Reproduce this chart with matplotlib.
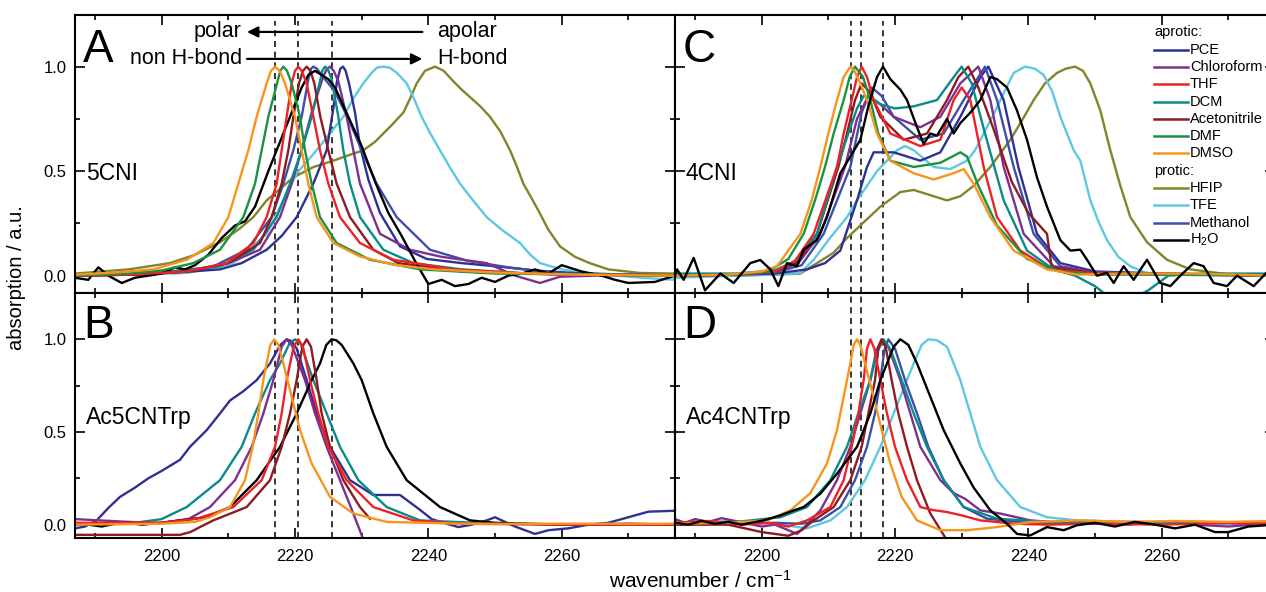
import matplotlib
matplotlib.use("Agg")
import matplotlib.pyplot as plt
from matplotlib.lines import Line2D
from matplotlib.ticker import MultipleLocator, NullFormatter

plt.rcParams['font.family'] = ['Liberation Sans', 'DejaVu Sans']
plt.rcParams['mathtext.fontset'] = 'custom'
plt.rcParams['mathtext.rm'] = 'Liberation Sans'
plt.rcParams['mathtext.it'] = 'Liberation Sans:italic'

# ---------------- legend / colours ----------------
aprotic = ['PCE', 'Chloroform', 'THF', 'DCM', 'Acetonitrile', 'DMF', 'DMSO']
protic = ['HFIP', 'TFE', 'Methanol', 'H$_2$O']
colors = {
    'PCE': '#2E3192', 'Chloroform': '#7F2F90', 'THF': '#EC2227',
    'DCM': '#0B8A8A', 'Acetonitrile': '#8E1B1F', 'DMF': '#1C9142',
    'DMSO': '#F7941D', 'HFIP': '#84842A', 'TFE': '#5EC8E3',
    'Methanol': '#3C50A8', 'H$_2$O': '#000000',
}

dash_top = [2217.0, 2220.5, 2225.5]
dash_right = [2213.4, 2214.9, 2218.2]

# ---------------- panel A: 5CNI ----------------
a_pce_x = [2187, 2195, 2202, 2208.75, 2212, 2215.75, 2218, 2220.25, 2222.75, 2224.75, 2225.75, 2226.3, 2226.8,
           2227.2, 2227.6, 2228.1, 2229, 2229.75, 2231, 2232.75, 2235.75, 2239.75, 2245, 2250, 2256, 2262,
           2270, 2277]
a_pce_y = [0.0, 0.005, 0.015, 0.03, 0.06, 0.124, 0.19, 0.28, 0.44, 0.6, 0.8, 0.93, 0.99,
           1.0, 0.98, 0.92, 0.78, 0.62, 0.46, 0.3, 0.14, 0.08, 0.06, 0.045, 0.025, 0.012,
           0.005, 0.0]
a_chcl3_x = [2187, 2198, 2205, 2210, 2214.75, 2217.75, 2219.5, 2221, 2222.5, 2224.2, 2224.8, 2225.25, 2225.8,
             2226.5, 2227.75, 2229.75, 2232.75, 2237.25, 2242, 2248.75, 2253, 2256.75, 2259.75, 2265, 2270,
             2277]
a_chcl3_y = [0.0, 0.01, 0.03, 0.06, 0.124, 0.28, 0.44, 0.6, 0.78, 0.95, 0.99, 1.0, 0.98,
             0.93, 0.76, 0.44, 0.2, 0.124, 0.09, 0.06, 0.0, -0.035, -0.005, 0.0, 0.005,
             0.0]
a_thf_x = [2187, 2195, 2203.75, 2209.75, 2213.75, 2215.75, 2217.25, 2218, 2218.75, 2219.5, 2220, 2220.5, 2221,
           2221.75, 2222.75, 2223.75, 2225, 2226.75, 2229.75, 2234.75, 2243.75, 2255, 2265, 2277]
a_thf_y = [0.0, 0.005, 0.02, 0.06, 0.156, 0.28, 0.44, 0.6, 0.76, 0.92, 0.98, 1.0, 0.98,
           0.92, 0.76, 0.6, 0.44, 0.28, 0.156, 0.076, 0.03, 0.01, 0.005, 0.0]
a_dcm_x = [2187, 2198, 2208.75, 2213.75, 2217.25, 2219.25, 2221, 2222.5, 2223.75, 2224.1, 2224.5, 2224.9,
           2225.5, 2226.5, 2227.25, 2228.25, 2229.75, 2233.25, 2237.75, 2245, 2255, 2265, 2277]
a_dcm_y = [0.0, 0.01, 0.045, 0.124, 0.28, 0.44, 0.6, 0.76, 0.93, 0.98, 1.0, 0.99,
           0.94, 0.76, 0.6, 0.44, 0.28, 0.124, 0.06, 0.03, 0.01, 0.005, 0.0]
a_mecn_x = [2187, 2196, 2204, 2210, 2214.75, 2216.5, 2218, 2219, 2219.75, 2220.6, 2221.2, 2221.75, 2222.3,
            2222.9, 2223.8, 2225, 2226.25, 2228.25, 2231.75, 2235.5, 2245, 2260, 2277]
a_mecn_y = [0.0, 0.005, 0.02, 0.06, 0.156, 0.28, 0.44, 0.6, 0.76, 0.92, 0.98, 1.0, 0.98,
            0.92, 0.76, 0.6, 0.44, 0.28, 0.124, 0.06, 0.02, 0.005, 0.0]
a_dmf_x = [2187, 2195, 2200, 2204.75, 2208.75, 2212.25, 2214, 2215, 2216, 2217.3, 2217.8, 2218.25, 2218.8,
           2219.5, 2220.75, 2221.5, 2222.5, 2223.75, 2226.25, 2231.25, 2238.75, 2250, 2265, 2277]
a_dmf_y = [0.0, 0.01, 0.025, 0.06, 0.124, 0.28, 0.44, 0.6, 0.76, 0.92, 0.98, 1.0, 0.98,
           0.92, 0.76, 0.6, 0.44, 0.28, 0.156, 0.076, 0.03, 0.01, 0.005, 0.0]
a_dmso_x = [2187, 2193, 2198.75, 2203.75, 2207.75, 2210, 2211.5, 2213, 2214.25, 2215.75, 2216.4, 2217, 2217.7,
            2218.5, 2220, 2221, 2222, 2223.25, 2225.75, 2229.75, 2234.75, 2241, 2250, 2262, 2277]
a_dmso_y = [0.005, 0.015, 0.03, 0.076, 0.156, 0.28, 0.44, 0.6, 0.76, 0.92, 0.98, 1.0, 0.98,
            0.92, 0.76, 0.6, 0.44, 0.28, 0.156, 0.092, 0.052, 0.03, 0.015, 0.005, 0.0]
a_hfip_x = [2187, 2195, 2201.25, 2205, 2208.75, 2211.5, 2213.75, 2215.75, 2219.75, 2222.8, 2225.75, 2227.5,
            2230.25, 2232, 2234.5, 2236.25, 2237.3, 2238.25, 2239.5, 2241, 2242.3, 2243.75, 2245, 2246.75,
            2247.8, 2249.25, 2250.8, 2252.25, 2253.3, 2254.25, 2255.5, 2256.7, 2258, 2259.75, 2262, 2264.2,
            2267, 2271.7, 2277]
a_hfip_y = [0.01, 0.03, 0.06, 0.1, 0.16, 0.22, 0.28, 0.36, 0.47, 0.52, 0.55, 0.57,
            0.6, 0.64, 0.72, 0.78, 0.85, 0.92, 0.98, 1.0, 0.98, 0.93, 0.89, 0.84,
            0.81, 0.76, 0.69, 0.6, 0.52, 0.44, 0.37, 0.30, 0.22, 0.14, 0.09, 0.06,
            0.03, 0.013, 0.01]
a_tfe_x = [2187, 2195, 2203.75, 2208, 2210.75, 2212.5, 2214, 2215.75, 2217, 2218.25, 2220.25, 2223.25, 2225.2,
           2227.25, 2228.8, 2230.25, 2231.5, 2232.3, 2233.25, 2234.2, 2235.3, 2236.75, 2237.8, 2239, 2240.3,
           2241.75, 2243.2, 2244.75, 2246.7, 2248.75, 2251, 2253.75, 2255.3, 2256.75, 2260, 2263, 2266.7,
           2272, 2277]
a_tfe_y = [0.0, 0.005, 0.013, 0.035, 0.06, 0.1, 0.15, 0.2, 0.28, 0.36, 0.49, 0.6, 0.68,
           0.76, 0.85, 0.92, 0.97, 0.995, 1.0, 0.995, 0.97, 0.92, 0.85, 0.76, 0.68,
           0.6, 0.52, 0.44, 0.36, 0.28, 0.22, 0.156, 0.1, 0.06, 0.03, 0.015, 0.005,
           -0.01, -0.02]
a_meoh_x = [2187, 2196, 2202, 2207.75, 2212.75, 2216.5, 2218.25, 2219.75, 2221, 2222, 2222.4, 2222.75, 2223.3,
            2224, 2226, 2228, 2230, 2232.25, 2235.25, 2240.25, 2246, 2252, 2258, 2265, 2277]
a_meoh_y = [0.0, 0.005, 0.015, 0.044, 0.124, 0.28, 0.44, 0.6, 0.76, 0.94, 0.99, 1.0, 0.99,
            0.96, 0.88, 0.75, 0.6, 0.44, 0.28, 0.124, 0.07, 0.04, 0.015, 0.005, 0.0]
a_h2o_x = [2187, 2189, 2190.5, 2192, 2194, 2196, 2198, 2200, 2202, 2203.5, 2205, 2207, 2209, 2211, 2212.5,
           2214, 2216, 2218, 2219.5, 2221, 2222, 2223, 2224, 2225, 2226, 2228, 2230, 2232, 2234, 2236,
           2238, 2240, 2242, 2244, 2246, 2248, 2250, 2252, 2254, 2256, 2258, 2260, 2263, 2266, 2268, 2270,
           2274, 2277]
a_h2o_y = [-0.01, -0.02, 0.04, 0.0, -0.035, -0.01, 0.0, 0.01, 0.04, 0.03, 0.05, 0.1, 0.18, 0.24, 0.26,
           0.33, 0.5, 0.66, 0.78, 0.9, 0.96, 0.98, 0.96, 0.94, 0.9, 0.76, 0.62, 0.45, 0.3, 0.19,
           0.07, -0.04, -0.02, -0.05, -0.04, -0.01, -0.03, 0.0, 0.01, 0.03, 0.01, 0.05, 0.02, 0.0, -0.02,
           -0.035, -0.03, 0.0]

# ---------------- panel B: Ac5CNTrp ----------------
b_dmso_x = [2187, 2200, 2205, 2207.25, 2210.25, 2212.5, 2213.65, 2214.5, 2215.25, 2216.3, 2216.9, 2217.5,
            2218.25, 2219.5, 2220.75, 2222.5, 2225.25, 2228.75, 2233.75, 2245, 2260, 2277]
b_dmso_y = [0.0, 0.005, 0.015, 0.04, 0.095, 0.24, 0.42, 0.6, 0.78, 0.97, 1.0, 0.97,
            0.87, 0.69, 0.51, 0.33, 0.15, 0.06, 0.015, 0.005, 0.005, 0.005]
b_dcm_x = [2187, 2195, 2200, 2203.75, 2208.75, 2212, 2214, 2216.25, 2217.75, 2219.2, 2220, 2220.8, 2222.75,
           2224.75, 2226.75, 2229.5, 2233.75, 2238.75, 2250, 2265, 2277]
b_dcm_y = [0.0, 0.005, 0.03, 0.095, 0.24, 0.42, 0.6, 0.78, 0.87, 0.98, 1.0, 0.98, 0.78,
           0.6, 0.42, 0.24, 0.095, 0.023, 0.005, 0.0, 0.0]
b_chcl3_x = [2187, 2195, 2200, 2204, 2207.25, 2211, 2213.5, 2215.25, 2216.75, 2218, 2218.75, 2219.5, 2221.5,
             2223, 2224.75, 2226.75, 2228.75, 2230.25, 2231]
b_chcl3_y = [0.03, 0.015, 0.01, 0.03, 0.095, 0.24, 0.42, 0.6, 0.78, 0.96, 1.0, 0.97, 0.78,
             0.6, 0.42, 0.24, 0.06, -0.08, -0.15]
b_thf_x = [2187, 2195, 2200, 2205.25, 2210.75, 2215, 2217, 2218, 2218.75, 2219.8, 2220.5, 2221.2, 2222.25,
           2223.5, 2225, 2227.75, 2231.75, 2237.75, 2245, 2260, 2277]
b_thf_y = [0.01, 0.01, 0.01, 0.032, 0.095, 0.24, 0.42, 0.6, 0.78, 0.96, 1.0, 0.96, 0.78,
           0.6, 0.42, 0.24, 0.095, 0.023, 0.005, 0.0, 0.0]
b_mecn_x = [2187, 2202.75, 2204.3, 2205.75, 2207.75, 2212.75, 2216.25, 2218, 2219.25, 2220.25, 2221.1,
            2221.75, 2222.4, 2223.25, 2224, 2225.25, 2227.25, 2229.75, 2231.25]
b_mecn_y = [-0.055, -0.055, -0.04, -0.013, 0.023, 0.095, 0.24, 0.42, 0.6, 0.78, 0.96,
            1.0, 0.96, 0.78, 0.6, 0.42, 0.24, 0.095, 0.032]
b_h2o_x = [2187, 2189, 2191, 2193, 2195, 2197, 2200, 2202.75, 2206.75, 2210.25, 2214.25, 2217.75, 2220.25,
           2222.5, 2223.75, 2224.7, 2225.5, 2226.2, 2227, 2228.75, 2230, 2231.75, 2233.75, 2236.75, 2241.75,
           2246.25, 2250, 2255, 2260, 2265, 2270, 2277]
b_h2o_y = [0.01, 0.0, -0.01, 0.005, 0.01, 0.0, 0.01, 0.023, 0.04, 0.095, 0.24, 0.42, 0.6,
           0.78, 0.87, 0.97, 1.0, 0.995, 0.97, 0.87, 0.78, 0.6, 0.42, 0.24, 0.095,
           0.023, 0.01, 0.005, 0.0, 0.0, 0.005, 0.0]
b_pce_x = [2187, 2188.5, 2190.25, 2192, 2193.75, 2196, 2198, 2200, 2202.75, 2204.25, 2206.75, 2208.75,
           2210.25, 2212.25, 2214.25, 2216.25, 2217.8, 2218.75, 2219.5, 2220.25, 2221.75, 2223.25, 2225.25,
           2228.25, 2231.75, 2235.75, 2238.75, 2240.5, 2242.75, 2244.5, 2246.5, 2248.75, 2250, 2253, 2256,
           2258, 2261, 2264, 2267, 2270, 2273, 2277]
b_pce_y = [-0.02, -0.01, 0.023, 0.09, 0.15, 0.2, 0.25, 0.29, 0.35, 0.42, 0.51, 0.6,
           0.67, 0.72, 0.78, 0.87, 0.97, 1.0, 0.99, 0.95, 0.78, 0.6, 0.42,
           0.24, 0.16, 0.16, 0.08, 0.03, 0.005, -0.013, 0.0, 0.023, 0.04, -0.01, -0.05,
           -0.03, -0.02, 0.0, 0.01, 0.04, 0.07, 0.075]

# ---------------- panel C: 4CNI ----------------
c_dmso_x = [2187, 2195, 2200, 2202.3, 2205.8, 2207.5, 2208.8, 2210, 2211.3, 2212.3, 2213.3, 2213.9, 2214.8,
            2215.8, 2217.3, 2219.3, 2222.8, 2225.8, 2228.8, 2230.3, 2231.8, 2234.3, 2237.8, 2242.8, 2247.3,
            2255, 2265, 2277]
c_dmso_y = [0.0, 0.005, 0.02, 0.045, 0.2, 0.36, 0.52, 0.68, 0.84, 0.95, 1.0, 0.98, 0.92,
            0.84, 0.68, 0.55, 0.49, 0.46, 0.49, 0.51, 0.44, 0.28, 0.12, 0.03, 0.005,
            0.01, 0.01, 0.0]
c_dmf_x = [2187, 2196, 2201, 2204, 2206.3, 2208, 2209.5, 2210.8, 2212.3, 2213.2, 2214, 2215.2, 2216.3,
           2217.5, 2219.3, 2222.8, 2226.8, 2229.8, 2230.8, 2232.5, 2235.3, 2239.8, 2244.8, 2250, 2260, 2277]
c_dmf_y = [0.0, 0.005, 0.02, 0.08, 0.2, 0.36, 0.52, 0.68, 0.84, 0.95, 1.0, 0.95, 0.84,
           0.68, 0.55, 0.52, 0.54, 0.59, 0.57, 0.43, 0.24, 0.08, 0.02, 0.005, 0.005, 0.0]
c_thf_x = [2187, 2196, 2202, 2205, 2207.8, 2211.3, 2212.3, 2213.5, 2214.3, 2215, 2215.8, 2216.8, 2219.3,
           2223.8, 2226.8, 2228.8, 2230, 2231.3, 2233.3, 2235.3, 2238.8, 2243.3, 2250, 2260, 2277]
c_thf_y = [0.0, 0.005, 0.02, 0.07, 0.2, 0.52, 0.68, 0.84, 0.95, 1.0, 0.95, 0.84, 0.68,
           0.62, 0.65, 0.84, 0.9, 0.84, 0.52, 0.28, 0.12, 0.03, 0.01, 0.01, 0.0]
c_dcm_x = [2187, 2196, 2202, 2205, 2208.3, 2211.3, 2213, 2214.3, 2215.3, 2216.5, 2217.8, 2220, 2222.8,
           2226.3, 2228.8, 2230, 2231.5, 2233.5, 2236.3, 2239.8, 2243.8, 2247, 2250, 2252, 2255, 2258,
           2261, 2266, 2277]
c_dcm_y = [0.01, 0.01, 0.025, 0.07, 0.2, 0.52, 0.68, 0.8, 0.86, 0.85, 0.82, 0.8, 0.81,
           0.84, 0.95, 1.0, 0.92, 0.68, 0.36, 0.12, 0.03, 0.0, -0.05, -0.1, -0.12, -0.07,
           0.0, 0.01, 0.01]
c_mecn_x = [2187, 2196, 2202, 2205.5, 2208.3, 2211.5, 2212.8, 2214, 2215, 2216.2, 2217.8, 2221.3, 2224.8,
            2227.8, 2229.5, 2231, 2232.5, 2234.8, 2237.5, 2240, 2242.8, 2243.5, 2250, 2277]
c_mecn_y = [0.0, 0.005, 0.02, 0.07, 0.2, 0.52, 0.68, 0.84, 0.92, 0.88, 0.76, 0.65, 0.68,
            0.84, 0.95, 1.0, 0.9, 0.7, 0.45, 0.3, 0.2, 0.04, 0.01, 0.0]
c_chcl3_x = [2187, 2196, 2202, 2205.5, 2208.8, 2212.5, 2214.3, 2216, 2217.8, 2219.8, 2223.8, 2226.8, 2229.8,
             2232.5, 2234.3, 2236.3, 2239.3, 2243.8, 2250, 2260, 2277]
c_chcl3_y = [0.0, 0.005, 0.02, 0.06, 0.2, 0.52, 0.75, 0.86, 0.82, 0.76, 0.71, 0.76, 0.92,
             1.0, 0.84, 0.52, 0.2, 0.045, 0.015, 0.01, 0.0]
c_meoh_x = [2187, 2196, 2202, 2206, 2209.3, 2213.3, 2215, 2216.5, 2218, 2219.8, 2223.8, 2227.3, 2230.3,
            2233.5, 2235.3, 2237.8, 2240.8, 2244.8, 2250, 2260, 2277]
c_meoh_y = [0.0, 0.005, 0.015, 0.05, 0.2, 0.52, 0.78, 0.9, 0.86, 0.76, 0.65, 0.68, 0.84,
            1.0, 0.84, 0.52, 0.2, 0.045, 0.015, 0.01, 0.0]
c_pce_x = [2187, 2196, 2202, 2206.8, 2209.5, 2211.8, 2214.3, 2215.8, 2216.8, 2219.8, 2223.8, 2226.8, 2229.8,
           2232.8, 2234, 2236.3, 2238.5, 2241.3, 2244.8, 2250, 2260, 2277]
c_pce_y = [0.0, 0.005, 0.01, 0.03, 0.06, 0.12, 0.36, 0.52, 0.59, 0.59, 0.55, 0.59, 0.76,
           0.95, 1.0, 0.84, 0.52, 0.2, 0.06, 0.02, 0.01, 0.0]
c_tfe_x = [2187, 2196, 2202, 2205.8, 2207.8, 2210, 2212.8, 2214.3, 2215.8, 2217.3, 2218.8, 2220.3, 2221.5,
           2222.8, 2225.8, 2228.3, 2230.8, 2232, 2233.3, 2234.6, 2235.8, 2237.8, 2239.5, 2241, 2242.3,
           2243.6, 2244.8, 2246.8, 2247.8, 2249.3, 2250.5, 2251.8, 2253.5, 2255.3, 2257.5, 2260.3, 2277]
c_tfe_y = [-0.01, 0.0, 0.005, 0.013, 0.076, 0.17, 0.28, 0.36, 0.43, 0.5, 0.55, 0.6, 0.62,
           0.6, 0.52, 0.51, 0.55, 0.6, 0.68, 0.76, 0.84, 0.97, 1.0, 0.99, 0.96,
           0.88, 0.76, 0.6, 0.55, 0.36, 0.26, 0.17, 0.09, 0.045, 0.015, 0.005, 0.0]
c_hfip_x = [2187, 2196, 2202, 2205.8, 2208.3, 2210.8, 2212.8, 2214.8, 2217.8, 2220.8, 2222.8, 2225.8, 2227.8,
            2229.8, 2231.8, 2234.3, 2237.3, 2239, 2240.8, 2242.5, 2244.3, 2245.6, 2247, 2248.2, 2249.3,
            2250.8, 2252.3, 2253.8, 2255.3, 2257.8, 2260.8, 2264.3, 2270.3, 2277]
c_hfip_y = [0.0, 0.0, 0.005, 0.01, 0.06, 0.11, 0.18, 0.24, 0.33, 0.4, 0.41, 0.38, 0.36,
            0.38, 0.43, 0.52, 0.65, 0.74, 0.84, 0.92, 0.97, 0.99, 1.0, 0.98, 0.92,
            0.79, 0.6, 0.43, 0.28, 0.16, 0.076, 0.03, 0.005, 0.0]
c_h2o_x = [2187, 2187.3, 2188.3, 2189.8, 2191.5, 2193.8, 2195.8, 2198.3, 2199.8, 2201.3, 2202.5, 2203.8,
           2205.3, 2206.3, 2208.3, 2209.8, 2211.8, 2213.3, 2214.8, 2216, 2217.3, 2218.2, 2219.3, 2220.8,
           2221.8, 2223.3, 2224.3, 2225.3, 2226.3, 2227.8, 2228.8, 2229.8, 2231.3, 2232.8, 2234.3, 2235.3,
           2236.8, 2238.3, 2239.8, 2241.3, 2242.8, 2244.8, 2246.3, 2247.8, 2248.8, 2250.3, 2251.8, 2252.8,
           2254.3, 2255.8, 2257.8, 2259.8, 2261.3, 2262.8, 2264.8, 2266.3, 2267.8, 2269.8, 2271.3, 2273.8,
           2275.7, 2277]
c_h2o_y = [0.0, 0.03, -0.02, 0.085, -0.07, 0.01, -0.035, 0.06, 0.075, 0.03, -0.05, 0.06,
           0.045, 0.125, 0.17, 0.28, 0.49, 0.57, 0.65, 0.81, 0.95, 1.0, 0.94, 0.89,
           0.84, 0.71, 0.63, 0.68, 0.67, 0.75, 0.68, 0.73, 0.78, 0.84, 0.95, 0.94,
           0.9, 0.79, 0.65, 0.47, 0.33, 0.17, 0.12, 0.124, 0.076, 0.0, 0.013, -0.035,
           0.045, -0.02, 0.076, -0.035, -0.05, 0.0, 0.06, 0.045, -0.035, -0.05, 0.0, -0.05,
           0.013, 0.0]

# ---------------- panel D: Ac4CNTrp ----------------
d_dmso_x = [2187, 2195, 2200.8, 2204.3, 2207.3, 2209.8, 2211.3, 2212.3, 2213.3, 2213.8, 2214.3, 2214.8, 2215.5,
            2216.8, 2218, 2219.3, 2221, 2223.3, 2226.8, 2230.8, 2235.3, 2240.3, 2247.8, 2255, 2262, 2270, 2277]
d_dmso_y = [0.005, 0.01, 0.023, 0.077, 0.17, 0.33, 0.51, 0.69, 0.87, 0.97, 1.0, 0.97, 0.87,
            0.69, 0.51, 0.33, 0.15, 0.023, -0.03, -0.03, -0.013, 0.014, 0.023, 0.015, 0.02, 0.015, 0.02]
d_thf_x = [2187, 2192, 2197, 2201, 2204, 2206.8, 2210.3, 2212.3, 2213.5, 2214.5, 2215.3, 2215.8, 2216.3,
           2216.9, 2217.8, 2218.8, 2220, 2221.8, 2223.8, 2225.5, 2227.8, 2230, 2232.8, 2238, 2242.8, 2250,
           2260, 2270, 2277]
d_thf_y = [0.01, 0.02, 0.0, 0.01, -0.01, 0.023, 0.095, 0.24, 0.42, 0.6, 0.78, 0.95, 1.0,
           0.95, 0.78, 0.6, 0.42, 0.24, 0.095, 0.08, 0.068, 0.05, 0.023, 0.005, 0.0, 0.005,
           0.0, 0.01, 0.005]
d_mecn_x = [2187, 2195, 2200, 2204, 2206, 2207.8, 2210.8, 2213.3, 2215, 2216, 2217, 2217.5, 2218, 2218.6,
            2219.5, 2220.5, 2221.8, 2223.3, 2225.3, 2227.8]
d_mecn_y = [0.0, 0.0, -0.04, -0.06, -0.03, 0.023, 0.095, 0.24, 0.42, 0.6, 0.78, 0.95, 1.0, 0.96,
            0.78, 0.6, 0.42, 0.24, 0.06, -0.085]
d_dcm_x = [2187, 2195, 2202.8, 2206.8, 2210.3, 2212.8, 2214.5, 2216.3, 2217.3, 2218.3, 2219.4, 2221, 2222.8,
           2224.8, 2227.3, 2230.3, 2235.3, 2245, 2255, 2265, 2277]
d_dcm_y = [0.0, 0.01, 0.04, 0.095, 0.24, 0.42, 0.6, 0.78, 0.93, 1.0, 0.94, 0.78, 0.6,
           0.42, 0.24, 0.095, 0.032, 0.01, 0.015, 0.01, 0.01]
d_chcl3_x = [2187, 2188.5, 2190, 2192, 2194, 2196, 2198, 2200, 2202, 2204, 2205.3, 2206.5, 2208.8, 2211.3,
             2213.3, 2214.8, 2216.3, 2217.2, 2218, 2219, 2220.8, 2222.3, 2223.8, 2226.8, 2228.8, 2230.5,
             2232.8, 2235.8, 2240.3, 2245, 2250, 2255, 2260, 2265, 2270, 2277]
d_chcl3_y = [0.03, 0.01, 0.03, 0.015, 0.035, 0.02, 0.005, -0.01, 0.0, -0.03, -0.05, -0.01, 0.077, 0.24,
             0.42, 0.6, 0.78, 0.94, 1.0, 0.96, 0.78, 0.6, 0.42, 0.24, 0.17, 0.14,
             0.077, 0.06, 0.023, 0.01, 0.02, 0.0, 0.015, 0.0, -0.01, 0.01]
d_meoh_x = [2187, 2195, 2202, 2206, 2208.8, 2211.8, 2214, 2215.8, 2217, 2217.8, 2218.4, 2219, 2220, 2221.5,
            2223.3, 2225, 2227.3, 2230.3, 2233.8, 2240, 2250, 2260, 2277]
d_meoh_y = [0.01, 0.005, 0.01, 0.005, 0.023, 0.095, 0.24, 0.42, 0.6, 0.78, 0.94, 1.0, 0.95, 0.78,
            0.6, 0.42, 0.24, 0.095, 0.032, 0.01, 0.005, 0.01, 0.005]
d_h2o_x = [2187, 2189, 2191, 2193, 2195, 2197, 2200.3, 2202.8, 2204.8, 2206.3, 2208.8, 2211.3, 2214.3,
           2216.3, 2217.8, 2218.8, 2219.8, 2220.8, 2222, 2223.3, 2225.3, 2227.3, 2229.8, 2231.8, 2234.3,
           2236.8, 2238.3, 2240.3, 2242.8, 2245.3, 2247.3, 2250, 2253, 2256, 2259, 2262, 2265, 2268, 2270,
           2273, 2277]
d_h2o_y = [0.01, 0.0, 0.02, 0.005, 0.015, 0.0, 0.023, 0.05, 0.077, 0.095, 0.167, 0.275, 0.42,
           0.6, 0.78, 0.87, 0.96, 1.0, 0.97, 0.87, 0.69, 0.51, 0.33, 0.2, 0.077,
           0.005, -0.05, -0.058, -0.013, -0.03, -0.003, 0.01, -0.01, 0.015, 0.0, -0.02, 0.0, -0.04, -0.04,
           -0.01, 0.0]
d_tfe_x = [2187, 2195, 2202, 2206.8, 2210.3, 2212.8, 2215.5, 2217.8, 2219.8, 2221.8, 2222.8, 2224, 2225,
           2226.3, 2227.8, 2229.8, 2231.3, 2232.8, 2235.3, 2238.8, 2242.8, 2247.3, 2255, 2265, 2277]
d_tfe_y = [0.01, 0.02, 0.005, -0.02, 0.023, 0.095, 0.24, 0.42, 0.6, 0.78, 0.87, 0.97, 1.0,
           0.995, 0.96, 0.78, 0.6, 0.42, 0.24, 0.095, 0.04, 0.023, 0.015, 0.01, 0.005]

panel_a = [('HFIP', a_hfip_x, a_hfip_y), ('TFE', a_tfe_x, a_tfe_y), ('PCE', a_pce_x, a_pce_y),
           ('Methanol', a_meoh_x, a_meoh_y), ('Chloroform', a_chcl3_x, a_chcl3_y),
           ('DCM', a_dcm_x, a_dcm_y), ('Acetonitrile', a_mecn_x, a_mecn_y),
           ('H$_2$O', a_h2o_x, a_h2o_y), ('THF', a_thf_x, a_thf_y),
           ('DMF', a_dmf_x, a_dmf_y), ('DMSO', a_dmso_x, a_dmso_y)]
panel_b = [('PCE', b_pce_x, b_pce_y), ('DCM', b_dcm_x, b_dcm_y), ('Chloroform', b_chcl3_x, b_chcl3_y),
           ('H$_2$O', b_h2o_x, b_h2o_y), ('Acetonitrile', b_mecn_x, b_mecn_y),
           ('THF', b_thf_x, b_thf_y), ('DMSO', b_dmso_x, b_dmso_y)]
panel_c = [('HFIP', c_hfip_x, c_hfip_y), ('TFE', c_tfe_x, c_tfe_y), ('PCE', c_pce_x, c_pce_y),
           ('Methanol', c_meoh_x, c_meoh_y), ('Chloroform', c_chcl3_x, c_chcl3_y),
           ('Acetonitrile', c_mecn_x, c_mecn_y), ('DCM', c_dcm_x, c_dcm_y),
           ('THF', c_thf_x, c_thf_y), ('DMF', c_dmf_x, c_dmf_y), ('DMSO', c_dmso_x, c_dmso_y),
           ('H$_2$O', c_h2o_x, c_h2o_y)]
panel_d = [('TFE', d_tfe_x, d_tfe_y), ('Methanol', d_meoh_x, d_meoh_y), ('Chloroform', d_chcl3_x, d_chcl3_y),
           ('DCM', d_dcm_x, d_dcm_y), ('Acetonitrile', d_mecn_x, d_mecn_y), ('THF', d_thf_x, d_thf_y),
           ('DMSO', d_dmso_x, d_dmso_y), ('H$_2$O', d_h2o_x, d_h2o_y)]

W, H = 1266, 592
fig = plt.figure(figsize=(W / 100, H / 100), dpi=100)


def px_box(left, top, right, bottom):
    return [left / W, 1 - bottom / H, (right - left) / W, (bottom - top) / H]


ax_a = fig.add_axes(px_box(75, 15, 675, 293))
ax_b = fig.add_axes(px_box(75, 293, 675, 538))
ax_c = fig.add_axes(px_box(675, 15, 1275, 293))
ax_d = fig.add_axes(px_box(675, 293, 1275, 538))


def style(ax, ylim, xlabels, ylabels):
    ax.set_xlim(2187, 2277)
    ax.set_ylim(*ylim)
    ax.xaxis.set_major_locator(MultipleLocator(20))
    ax.xaxis.set_minor_locator(MultipleLocator(10))
    ax.yaxis.set_major_locator(MultipleLocator(0.5))
    ax.yaxis.set_minor_locator(MultipleLocator(0.25))
    ax.tick_params(which='both', direction='in', top=True, right=True, width=1.2, labelsize=12)
    ax.tick_params(which='major', length=7)
    ax.tick_params(which='minor', length=3.5)
    ax.tick_params(axis='x', pad=8)
    ax.tick_params(axis='y', pad=6)
    for sp in ax.spines.values():
        sp.set_linewidth(1.5)
    if not xlabels:
        ax.xaxis.set_major_formatter(NullFormatter())
    if ylabels:
        ax.yaxis.set_major_formatter(lambda v, p: f'{v:.1f}')
    else:
        ax.yaxis.set_major_formatter(NullFormatter())


def draw(ax, curves, dashes, ymax):
    for xv in dashes:
        ax.axvline(xv, ymax=ymax, color='k', lw=1.1, ls=(0, (4, 3)), zorder=1)
    for name, xs, ys in curves:
        ax.plot(xs, ys, color=colors[name], lw=1.7, zorder=2, solid_joinstyle='round')


draw(ax_a, panel_a, dash_top, 0.98)
draw(ax_b, panel_b, dash_top, 1.0)
draw(ax_c, panel_c, dash_right, 0.98)
draw(ax_d, panel_d, dash_right, 1.0)

style(ax_a, (-0.083, 1.247), False, True)
style(ax_b, (-0.072, 1.25), True, True)
style(ax_c, (-0.083, 1.247), False, False)
style(ax_d, (-0.072, 1.25), True, False)

# panel letters and compound names
for ax, letter, name, ly, ny in [(ax_a, 'A', '5CNI', 0.83, 0.43), (ax_b, 'B', 'Ac5CNTrp', 0.815, 0.49),
                                 (ax_c, 'C', '4CNI', 0.83, 0.43), (ax_d, 'D', 'Ac4CNTrp', 0.815, 0.49)]:
    ax.text(0.013, ly, letter, transform=ax.transAxes, fontsize=33, va='baseline', ha='left')
    ax.text(0.018, ny, name, transform=ax.transAxes, fontsize=16.5, va='center', ha='left')

# polarity / H-bond arrows
ax_a.annotate('', xy=(2212.8, 1.166), xytext=(2239.1, 1.166),
              arrowprops=dict(arrowstyle='-|>', color='k', lw=1.6, mutation_scale=16, shrinkA=0, shrinkB=0))
ax_a.annotate('', xy=(2239.1, 1.037), xytext=(2212.8, 1.037),
              arrowprops=dict(arrowstyle='-|>', color='k', lw=1.6, mutation_scale=16, shrinkA=0, shrinkB=0))
ax_a.text(2212.0, 1.17, 'polar', fontsize=15.5, ha='right', va='center')
ax_a.text(2241.3, 1.17, 'apolar', fontsize=15.5, ha='left', va='center')
ax_a.text(2212.0, 1.04, 'non H-bond', fontsize=15.5, ha='right', va='center')
ax_a.text(2241.3, 1.04, 'H-bond', fontsize=15.5, ha='left', va='center')

# legend, drawn by hand so the group headers line up with the handles
rows = ['aprotic:'] + aprotic + ['protic:'] + protic
x0, x1, xt = 1154, 1188, 1190
for i, label in enumerate(rows):
    yc = 1 - (32.3 + 17.3 * i) / H
    if label.endswith(':'):
        fig.text(x0 / W, yc, label, fontsize=10.5, ha='left', va='center')
    else:
        fig.add_artist(Line2D([x0 / W, x1 / W], [yc, yc], color=colors[label], lw=1.8,
                              transform=fig.transFigure))
        fig.text(xt / W, yc, label, fontsize=10.5, ha='left', va='center')

fig.text(700 / W, 1 - 581 / H, 'wavenumber / cm$^{-1}$', fontsize=15, ha='center', va='center')
fig.text(17 / W, 1 - 278 / H, 'absorption / a.u.', fontsize=14.5, ha='center', va='center', rotation=90)

fig.savefig('out.png', dpi=100)
